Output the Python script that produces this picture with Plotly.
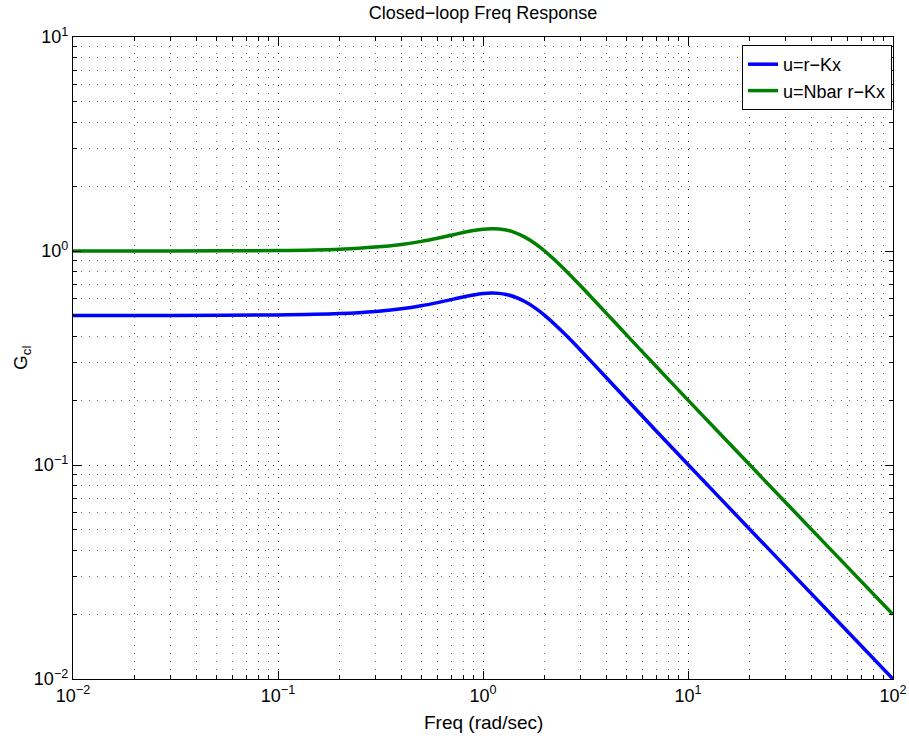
import plotly.graph_objects as go

freq = [0.01, 0.03, 0.1, 0.2, 0.3, 0.4, 0.5, 0.6, 0.7, 0.8, 0.9, 1.0, 1.1, 1.2, 1.3,
        1.4, 1.6, 1.8, 2.0, 2.5, 3.0, 4.0, 5.0, 7.0, 10.0, 20.0, 50.0, 100.0]
g_rkx = [0.500, 0.500, 0.5025, 0.5098, 0.5215, 0.5368, 0.5547, 0.5739, 0.5928, 0.6099,
         0.6235, 0.6325, 0.6360, 0.6338, 0.6264, 0.6144, 0.5808, 0.5408, 0.500, 0.4103,
         0.3430, 0.2557, 0.2033, 0.1442, 0.1005, 0.0501, 0.0200, 0.0100]
g_nbar = [1.000, 1.000, 1.005, 1.0196, 1.043, 1.0736, 1.1094, 1.1478, 1.1856, 1.2198,
          1.247, 1.265, 1.272, 1.2676, 1.2528, 1.2288, 1.1616, 1.0816, 1.000, 0.8206,
          0.686, 0.5114, 0.4066, 0.2884, 0.201, 0.1002, 0.0400, 0.0200]

names = ["u=r\u2212Kx", "u=Nbar r\u2212Kx"]
colors = ["#0000FF", "#008000"]

x_tickvals = [0.01, 0.1, 1, 10, 100]
x_ticktext = ["10<sup>\u22122</sup>", "10<sup>\u22121</sup>", "10<sup>0</sup>", "10<sup>1</sup>", "10<sup>2</sup>"]
y_tickvals = [0.01, 0.1, 1, 10]
y_ticktext = ["10<sup>\u22122</sup>", "10<sup>\u22121</sup>", "10<sup>0</sup>", "10<sup>1</sup>"]

fig = go.Figure()
for ys, nm, c in zip([g_rkx, g_nbar], names, colors):
    fig.add_trace(go.Scatter(x=freq, y=ys, mode="lines", name=nm,
                             line=dict(color=c, width=3.5, shape="spline", smoothing=0.6)))

font = "Liberation Sans, Arial, Helvetica, sans-serif"
grid_dash = "1px,7px"
axis_common = dict(
    type="log", tickmode="array",
    showline=True, linecolor="black", linewidth=1.3, mirror="allticks",
    ticks="inside", ticklen=8, tickcolor="black", tickwidth=1,
    showgrid=True, gridcolor="rgba(0,0,0,0.85)", griddash=grid_dash, gridwidth=1,
    zeroline=False, automargin=False,
    tickfont=dict(size=18, color="black", family=font),
    minor=dict(dtick="D1", ticks="inside", ticklen=4, tickcolor="black",
               showgrid=True, gridcolor="rgba(0,0,0,0.6)", griddash=grid_dash, gridwidth=1),
)

fig.update_xaxes(range=[-2, 2], tickvals=x_tickvals, ticktext=x_ticktext, **axis_common)
fig.update_yaxes(range=[-2, 1], tickvals=y_tickvals, ticktext=y_ticktext, **axis_common)

L, R, T, B = 73, 16, 37, 57
W, H = 909, 736
pw, ph = W - L - R, H - T - B

fig.update_layout(
    width=W, height=H,
    margin=dict(l=L, r=R, t=T, b=B),
    paper_bgcolor="white", plot_bgcolor="white",
    font=dict(family=font, color="black"),
    title=dict(text="Closed\u2212loop Freq Response", x=483 / W, xanchor="center",
               xref="container", y=1 - 13 / H, yref="container", yanchor="middle",
               font=dict(size=18, family=font, color="black")),
    legend=dict(x=(892 - L) / pw, xanchor="right", y=(H - B - 45) / ph, yanchor="top",
                bgcolor="white", bordercolor="black", borderwidth=1,
                font=dict(size=18, family=font, color="black"),
                tracegroupgap=0, itemwidth=30),
    showlegend=True,
    annotations=[
        dict(text="Freq (rad/sec)", xref="paper", yref="paper", x=0.5, y=(H - B - 722) / ph,
             xanchor="center", yanchor="middle", showarrow=False,
             font=dict(size=19, family=font, color="black")),
        dict(text="G<sub>cl</sub>", xref="paper", yref="paper", x=(22 - L) / pw, y=0.5,
             xanchor="center", yanchor="middle", showarrow=False, textangle=-90,
             font=dict(size=19, family=font, color="black")),
    ],
)

fig.write_html("out.html", config={"displayModeBar": False},
               post_script="document.body.style.margin='0';document.body.style.padding='0';"
                           "document.body.style.overflow='hidden';")
